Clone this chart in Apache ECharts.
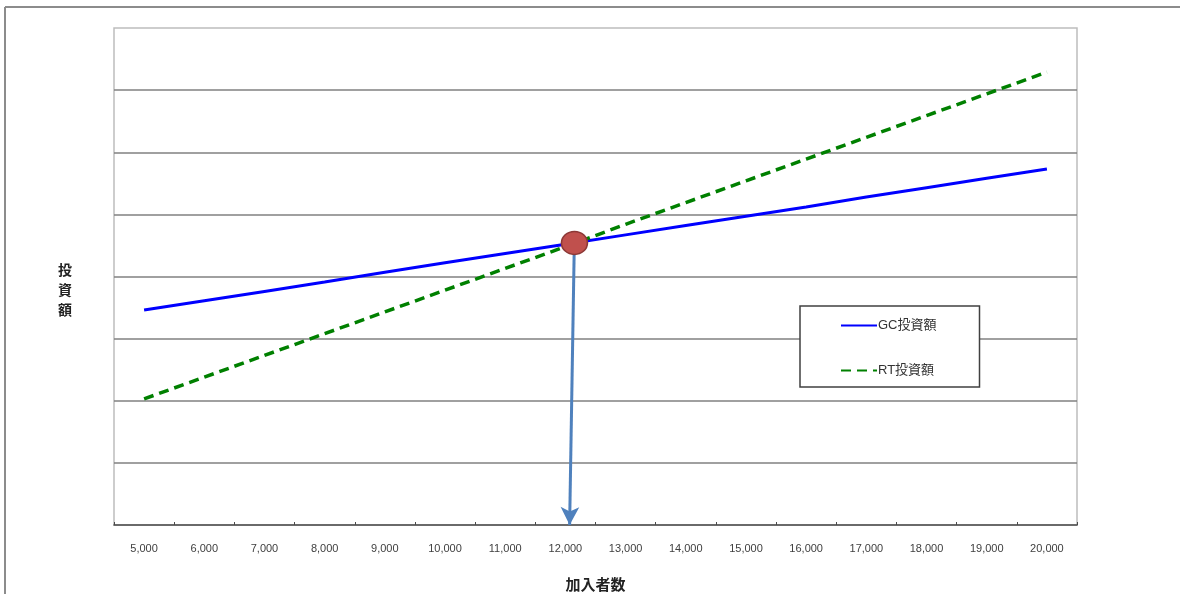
<!DOCTYPE html>
<html>
<head>
<meta charset="utf-8">
<script src="https://cdn.jsdelivr.net/npm/echarts@6/dist/echarts.min.js"></script>
<style>
html,body{margin:0;padding:0;background:#fff;}
#c{width:1180px;height:594px;}
</style>
</head>
<body>
<div id="c"></div>
<script>
// Data
const categories = [5000,6000,7000,8000,9000,10000,11000,12000,13000,14000,15000,16000,17000,18000,19000,20000];
const categoryLabels = categories.map(v => v.toLocaleString('en-US'));
const gcValues = [3.46,3.61,3.76,3.91,4.07,4.22,4.37,4.52,4.67,4.82,4.97,5.12,5.28,5.43,5.58,5.73];
const rtValues = [2.03,2.38,2.73,3.08,3.43,3.78,4.13,4.48,4.84,5.19,5.54,5.89,6.24,6.59,6.94,7.29];
const crossPoint = [12150, 4.54];
const arrowStart = [12145, 4.36];
const arrowEnd = [12070, 0];
const seriesNames = ['GC投資額', 'RT投資額'];
const xTitle = '加入者数';
const yTitle = '投\n資\n額';

const chart = echarts.init(document.getElementById('c'), null, {renderer: 'canvas'});
const cjk = '"Noto Sans CJK JP", "Liberation Sans", sans-serif';
const latin = '"Liberation Sans", "Noto Sans CJK JP", sans-serif';

chart.setOption({
  animation: false,
  backgroundColor: '#fff',
  grid: {left: 114, right: 103, top: 28, bottom: 69, outerBoundsMode: 'none', containLabel: false, show: true, borderColor: '#bdbdbd', borderWidth: 1.5, backgroundColor: 'transparent'},
  xAxis: [{
    type: 'category',
    data: categoryLabels,
    boundaryGap: true,
    axisLine: {lineStyle: {color: '#4a4a4a', width: 1.5}},
    axisTick: {show: true, inside: true, length: 3, interval: 0, lineStyle: {color: '#4a4a4a', width: 1}},
    axisLabel: {interval: 0, margin: 18, fontSize: 11, color: '#404040', fontFamily: latin},
    splitLine: {show: false},
    name: xTitle,
    nameLocation: 'middle',
    nameGap: 52,
    nameTextStyle: {fontSize: 15, fontWeight: 'bold', color: '#222', fontFamily: cjk}
  }, {
    type: 'value',
    min: 4500,
    max: 20500,
    show: false
  }],
  yAxis: {
    type: 'value',
    min: 0,
    max: 8,
    interval: 1,
    axisLine: {show: false},
    axisTick: {show: false},
    axisLabel: {show: false},
    splitLine: {show: true, showMaxLine: false, showMinLine: false, lineStyle: {color: '#808080', width: 1.5}}
  },
  legend: {
    orient: 'vertical',
    left: 800,
    top: 306,
    padding: [13, 43, 10, 40],
    itemGap: 32,
    itemWidth: 36,
    itemHeight: 14,
    backgroundColor: '#fff',
    borderColor: '#404040',
    borderWidth: 1.5,
    borderRadius: 0,
    itemStyle: {opacity: 0},
    textStyle: {fontSize: 13, color: '#333', fontFamily: latin, padding: [0, 0, 0, -4]},
    data: seriesNames
  },
  graphic: [
    {type: 'line', shape: {x1: 5, y1: 7, x2: 1180, y2: 7}, style: {stroke: '#8c8c8c', lineWidth: 2}, silent: true},
    {type: 'line', shape: {x1: 5, y1: 7, x2: 5, y2: 594}, style: {stroke: '#8c8c8c', lineWidth: 2}, silent: true},
    {type: 'text', left: 58, top: 260, style: {text: yTitle, font: 'bold 14px ' + cjk, fill: '#222', lineHeight: 20}}
  ],
  series: [
    {
      name: seriesNames[0],
      type: 'line',
      data: gcValues,
      symbol: 'none',
      lineStyle: {color: '#0000ff', width: 3},
      itemStyle: {color: '#0000ff'},
      z: 3
    },
    {
      name: seriesNames[1],
      type: 'line',
      data: rtValues,
      symbol: 'none',
      lineStyle: {color: '#008000', width: 3.5, type: [10, 6]},
      itemStyle: {color: '#008000'},
      z: 3
    },
    {
      name: 'arrow',
      type: 'scatter',
      xAxisIndex: 1,
      data: [],
      z: 4,
      markLine: {
        silent: true,
        symbol: ['none', 'arrow'],
        symbolSize: [14, 18],
        label: {show: false},
        lineStyle: {color: '#4f81bd', width: 3, type: 'solid'},
        data: [[{coord: arrowStart}, {coord: arrowEnd}]]
      }
    },
    {
      name: 'cross',
      type: 'scatter',
      xAxisIndex: 1,
      data: [crossPoint],
      symbol: 'circle',
      symbolSize: [26, 23],
      itemStyle: {color: '#c0504d', borderColor: '#8c3836', borderWidth: 1.5, opacity: 1},
      z: 10
    }
  ]
});
</script>
</body>
</html>
